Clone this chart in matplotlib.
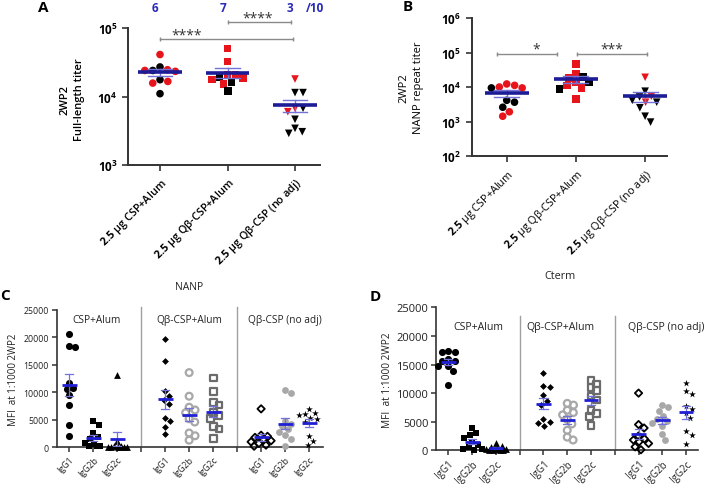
import numpy as np
import matplotlib
matplotlib.use('Agg')
import matplotlib.pyplot as plt
from matplotlib.ticker import NullLocator, FuncFormatter

plt.rcParams['font.family'] = ['Open Sans', 'DejaVu Sans']
plt.rcParams['mathtext.fontset'] = 'custom'
plt.rcParams['mathtext.rm'] = 'Open Sans'
plt.rcParams['mathtext.bf'] = 'Open Sans:bold'

# ---- data: panels A/B (titers, red = responder mice) ----
titer_groups = ['2.5 μg CSP+Alum', '2.5 μg Qβ-CSP+Alum', '2.5 μg Qβ-CSP (no adj)']
responders = ['6', '7', '3']

fl_csp_alum = [27000, 24000, 41000, 23300, 24000, 24600, 16600, 15700, 17600, 11000]
fl_csp_alum_red = [0, 0, 1, 1, 1, 1, 1, 1, 0, 0]
fl_qb_alum = [50000, 32500, 18600, 20400, 20400, 17600, 16200, 19300, 15200, 12100]
fl_qb_alum_red = [1, 1, 1, 1, 1, 1, 0, 0, 1, 0]
fl_qb_noadj = [18000, 11400, 11400, 6750, 6000, 6750, 4650, 3430, 2900, 3060]
fl_qb_noadj_red = [1, 0, 0, 1, 1, 0, 0, 0, 0, 0]

nanp_csp_alum = [12500, 10200, 9600, 9600, 11400, 3700, 4200, 2640, 1950, 1450]
nanp_csp_alum_red = [1, 1, 0, 1, 1, 0, 0, 0, 1, 1]
nanp_qb_alum = [47500, 25000, 14000, 18700, 20000, 14300, 9600, 9000, 11200, 4600]
nanp_qb_alum_red = [1, 1, 0, 1, 0, 1, 1, 0, 1, 1]
nanp_qb_noadj = [19500, 7700, 4200, 3700, 5250, 5500, 3700, 2550, 1450, 980]
nanp_qb_noadj_red = [1, 0, 0, 1, 0, 1, 0, 0, 0, 0]

# ---- data: panels C/D (IgG subclass MFI) ----
subclasses = ['IgG1', 'IgG2b', 'IgG2c']
vaccine_groups = ['CSP+Alum', 'Qβ-CSP+Alum', 'Qβ-CSP (no adj)']

nanp_igg = [
    [20660, 18500, 18200, 11750, 10840, 10660, 9460, 7650, 4100, 1990],
    [4700, 4040, 2530, 1800, 1500, 780, 600, 300, 300, 300],
    [13200, 1200, 300, 150, 100, 100, 50, 50, 0, 0],
    [19760, 15780, 10300, 9340, 7830, 5420, 4700, 3610, 2410, 8600],
    [13600, 9300, 7300, 6800, 6300, 5200, 4600, 2600, 2100, 1300],
    [12620, 10120, 8190, 7700, 6370, 5750, 5280, 3820, 3330, 1640],
    [7000, 2200, 2000, 1800, 1500, 1200, 1000, 700, 400, 200],
    [10400, 9900, 4800, 4300, 3800, 3300, 2700, 2200, 1600, 300],
    [6900, 6300, 6000, 5900, 5300, 5100, 4600, 2000, 1100, 400],
]
cterm_igg = [
    [17420, 17130, 17130, 15680, 15970, 15680, 14800, 14800, 13930, 11420],
    [3900, 3000, 2600, 2200, 1500, 900, 500, 300, 200, 100],
    [1200, 700, 500, 300, 200, 200, 100, 100, 50, 0],
    [13500, 11200, 11100, 9700, 8000, 5400, 5000, 4700, 4300, 8700],
    [8200, 7900, 7000, 6600, 6200, 5400, 4600, 3500, 2300, 1800],
    [12200, 11600, 11000, 10400, 9500, 8800, 7000, 6400, 5900, 4300],
    [10000, 4500, 3900, 2500, 2000, 1800, 1500, 1200, 600, 100],
    [7900, 7500, 6900, 6000, 5500, 5100, 4800, 4200, 2800, 1800],
    [11800, 10300, 9900, 7800, 7200, 6600, 3300, 2700, 1100, 5700],
]

RED = '#e8141c'
NAVY = '#1c1c96'
LBLUE = '#7272d8'
BLUE = '#1f1fd6'


def swarm_x(ax, x0, vals, diam, maxw):
    """beeswarm-style x positions, diam / maxw in pixels"""
    vals = np.asarray(vals, float)
    pix = ax.transData.transform(np.column_stack([np.full(len(vals), x0), vals]))
    sc = ax.transData.transform([[1, 1]])[0][0] - ax.transData.transform([[0, 1]])[0][0]
    ys = pix[:, 1]
    offs = np.zeros(len(vals))
    placed = []
    grid = list(np.linspace(-maxw, maxw, 41))
    for i in np.argsort(-ys):
        cands = [0.0] + grid
        for ox, oy in placed:
            dy = ys[i] - oy
            if abs(dy) < diam:
                w = np.sqrt(diam ** 2 - dy ** 2)
                cands += [ox + w, ox - w]
        cands = [c for c in cands if abs(c) <= maxw + 1e-9]
        cands.sort(key=abs)

        def mind(c):
            if not placed:
                return np.inf
            return min(np.hypot(c - ox, ys[i] - oy) for ox, oy in placed)
        best = None
        for c in cands:
            if mind(c) >= diam - 1e-6:
                best = c
                break
        if best is None:
            best = max(cands, key=mind)
        offs[i] = best
        placed.append((best, ys[i]))
    return x0 + offs / sc


def mean_sem(ax, x, vals, hw, cap, mcol, ecol, mlw, elw):
    v = np.asarray(vals, float)
    m = v.mean()
    s = v.std(ddof=1) / np.sqrt(len(v))
    ax.plot([x, x], [m - s, m + s], color=ecol, lw=elw, zorder=4)
    ax.plot([x - cap, x + cap], [m + s, m + s], color=ecol, lw=elw, zorder=4)
    ax.plot([x - cap, x + cap], [m - s, m - s], color=ecol, lw=elw, zorder=4)
    ax.plot([x - hw, x + hw], [m, m], color=mcol, lw=mlw, zorder=5, solid_capstyle='butt')


def sig_bar(ax, x1, x2, y, label, tx, ty):
    ax.plot([x1, x2], [y, y], color='#8a8a8a', lw=1, clip_on=False)
    ax.plot([x1, x2], [y, y], ls='none', marker='|', ms=3.5, mew=1, color='#8a8a8a', clip_on=False)
    ax.text(tx, ty, label, ha='center', va='center', fontsize=10, color='#333333', clip_on=False)


def style_titer_axes(ax, bold):
    for sp in ['top', 'right']:
        ax.spines[sp].set_visible(False)
    for sp in ['left', 'bottom']:
        ax.spines[sp].set_linewidth(1.4)
        ax.spines[sp].set_color('#333333')
    ax.set_yscale('log')
    ax.yaxis.set_minor_locator(NullLocator())
    ax.yaxis.set_major_formatter(FuncFormatter(lambda v, p: r'$\mathbf{10^{%d}}$' % round(np.log10(v))))
    ax.tick_params(axis='both', direction='out', length=4, width=1.2, color='#333333', labelsize=8.5)
    ax.set_xticks(range(3))
    ax.set_xticklabels([r'$\mathbf{2.5}$' + ' ' + g[4:] for g in titer_groups], rotation=45, ha='right',
                       rotation_mode='anchor', fontsize=7.8, fontweight='semibold' if bold else 'normal')


def draw_titers(ax, groups, reds, markers):
    for k, (vals, red, mk) in enumerate(zip(groups, reds, markers)):
        xs = swarm_x(ax, k, vals, 8.0, 18)
        cols = [RED if r else 'black' for r in red]
        ax.scatter(xs, vals, marker=mk, s=30, c=cols, linewidths=0, zorder=3, clip_on=False)
        mean_sem(ax, k, vals, 0.32, 0.18, NAVY, LBLUE, 2.6, 1.0)


fig = plt.figure(figsize=(7.07, 4.85), dpi=100)
W, H = 707, 485


def add_ax(l, t, r, b):
    return fig.add_axes([l / W, 1 - b / H, (r - l) / W, (b - t) / H])


# ---- A ----
axA = add_ax(128, 29, 320, 166)
axA.set_ylim(1e3, 1e5)
axA.set_xlim(-0.474, 2.37)
style_titer_axes(axA, True)
draw_titers(axA, [fl_csp_alum, fl_qb_alum, fl_qb_noadj],
            [fl_csp_alum_red, fl_qb_alum_red, fl_qb_noadj_red], ['o', 's', 'v'])
sig_bar(axA, 0, 1.97, 69000, '****', 0.4, 78000)
sig_bar(axA, 1.0, 1.94, 122000, '****', 1.44, 140000)
for k, t in enumerate(responders):
    fig.text((160 + 67.5 * k - 5) / W, 1 - 8 / H, t, color='#2a2ab8', fontsize=8.5,
             fontweight='bold', ha='center', va='center')
fig.text(315 / W, 1 - 8 / H, '/10', color='#2a2ab8', fontsize=8.5, fontweight='bold', ha='center', va='center')
fig.text(72 / W, 1 - 100 / H, '2WP2\nFull-length titer', rotation=90, ha='center', va='center',
         multialignment='center', fontsize=8, fontweight='semibold', linespacing=1.5)

# ---- B ----
axB = add_ax(471.7, 19.3, 667, 157.3)
axB.set_ylim(1e2, 1e6)
axB.set_xlim(-0.506, 2.316)
style_titer_axes(axB, False)
draw_titers(axB, [nanp_csp_alum, nanp_qb_alum, nanp_qb_noadj],
            [nanp_csp_alum_red, nanp_qb_alum_red, nanp_qb_noadj_red], ['o', 's', 'v'])
sig_bar(axB, -0.14, 0.72, 93000, '*', 0.43, 130000)
sig_bar(axB, 1.02, 2.02, 93000, '***', 1.52, 130000)
fig.text(411 / W, 1 - 88 / H, '2WP2\nNANP repeat titer', rotation=90, ha='center', va='center',
         multialignment='center', fontsize=8, linespacing=1.5)

# ---- C / D ----
cat_pos = [0, 1, 2, 4, 5, 6, 8, 9, 10]
igg_styles = [
    dict(marker='o', s=26, c='black', linewidths=0),
    dict(marker='s', s=24, c='black', linewidths=0),
    dict(marker='^', s=24, c='black', linewidths=0),
    dict(marker='D', s=12, c='black', linewidths=0),
    dict(marker='o', s=24, facecolors='none', edgecolors='#a8a8a8', linewidths=1.6),
    dict(marker='s', s=24, facecolors='none', edgecolors='#6b6b6b', linewidths=1.6),
    dict(marker='D', s=14, facecolors='none', edgecolors='black', linewidths=1.3),
    dict(marker='o', s=24, c='#a8a8a8', linewidths=0),
    dict(marker='*', s=26, c='black', linewidths=0),
]


def draw_igg(ax, data, grp_label_x, grp_label_y, div_top, ysize, xsize, gsize):
    ax.set_ylim(0, 25000)
    for sp in ['top', 'right']:
        ax.spines[sp].set_visible(False)
    for sp in ['left', 'bottom']:
        ax.spines[sp].set_linewidth(1.2)
        ax.spines[sp].set_color('#333333')
    ax.set_yticks(range(0, 25001, 5000))
    ax.set_xticks(range(11))
    labels = []
    for p in range(11):
        labels.append(subclasses[p % 4] if p % 4 < 3 else '')
    ax.set_xticklabels(labels, rotation=45, ha='right', rotation_mode='anchor', fontsize=xsize)
    ax.tick_params(axis='both', direction='out', length=3.5, width=1.1, color='#333333',
                   labelcolor='#222222', pad=2)
    ax.tick_params(axis='y', labelsize=ysize)
    for d in [3, 7]:
        ax.plot([d, d], [0, div_top], color='#a0a0a0', lw=1, clip_on=False,
                transform=ax.get_xaxis_transform())
    for p, vals, st in zip(cat_pos, data, igg_styles):
        xs = swarm_x(ax, p, vals, 6.5, 10)
        ax.scatter(xs, vals, zorder=3, clip_on=False, **st)
        mean_sem(ax, p, vals, 0.31, 0.17, BLUE, LBLUE, 2.0, 0.9)
    for gx, g in zip(grp_label_x, vaccine_groups):
        ax.text(gx, grp_label_y, g, ha='center', va='center', fontsize=gsize, color='#222222')


axC = add_ax(56.7, 311, 323, 448.3)
axC.set_xlim(-0.52, 10.58)
draw_igg(axC, nanp_igg, [1.15, 5.0, 9.0], 23300, 1.02, 6.3, 6.3, 7.3)
fig.text(14 / W, 1 - 380 / H, 'MFI  at 1:1000 2WP2', rotation=90, ha='center', va='center',
         fontsize=7, color='#222222')
fig.text(189 / W, 1 - 288 / H, 'NANP', ha='center', va='center', fontsize=7.5, color='#222222')

axD = add_ax(436, 308.3, 698, 451.3)
axD.set_xlim(-0.52, 10.5)
draw_igg(axD, cterm_igg, [1.26, 4.7, 9.15], 21700, 0.94, 8, 7, 7.6)
fig.text(388 / W, 1 - 380 / H, 'MFI  at 1:1000 2WP2', rotation=90, ha='center', va='center',
         fontsize=7.3, color='#222222')
fig.text(560 / W, 1 - 277 / H, 'Cterm', ha='center', va='center', fontsize=7.8, color='#222222')

# panel letters
for lbl, x, y in [('A', 43, 8), ('B', 408, 7), ('C', 5, 296), ('D', 375, 297)]:
    fig.text(x / W, 1 - y / H, lbl, fontsize=11, fontweight='bold', ha='center', va='center')

fig.savefig('out.png', dpi=100)
